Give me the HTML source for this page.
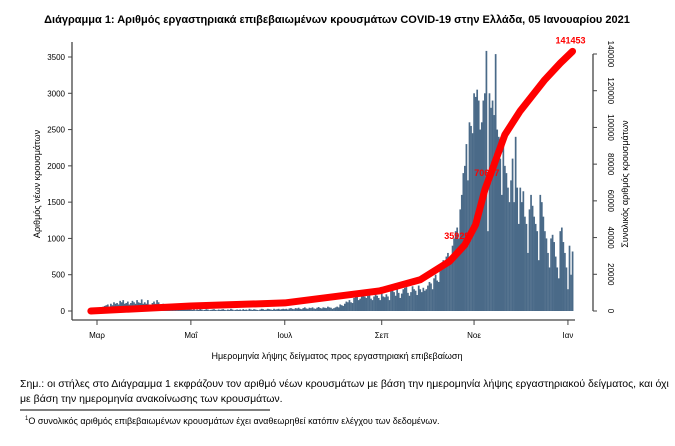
<!DOCTYPE html>
<html><head><meta charset="utf-8">
<style>
body{margin:0;background:#fff;width:675px;height:446px;overflow:hidden;font-family:"Liberation Sans Narrow","Liberation Sans",sans-serif;}
svg{position:absolute;left:0;top:0}
.note{position:absolute;left:20px;font-size:10.5px;color:#000;white-space:nowrap}
</style></head><body>
<svg id="chart" width="675" height="446" font-family="'Liberation Sans Narrow','Liberation Sans',sans-serif">
<text x="337" y="23" text-anchor="middle" font-size="11" font-weight="bold" font-family="'Liberation Sans',sans-serif">Διάγραμμα 1: Αριθμός εργαστηριακά επιβεβαιωμένων κρουσμάτων COVID-19 στην Ελλάδα, 05 Ιανουαρίου 2021</text>
<g id="bars"></g><g id="axes"></g><g id="cum"></g>
<text x="337" y="359" text-anchor="middle" font-size="9">Ημερομηνία λήψης δείγματος προς εργαστηριακή επιβεβαίωση</text>
<text transform="translate(40,184) rotate(-90)" text-anchor="middle" font-size="9">Αριθμός νέων κρουσμάτων</text>
<text transform="translate(628,184) rotate(-90)" text-anchor="middle" font-size="9">Συνολικός αριθμός κρουσμάτων</text>
<line x1="20" y1="410" x2="270" y2="410" stroke="#000" stroke-width="1"/>
</svg>
<div class="note" style="top:378px">Σημ.: οι στήλες στο Διάγραμμα 1 εκφράζουν τον αριθμό νέων κρουσμάτων με βάση την ημερομηνία λήψης εργαστηριακού δείγματος, και όχι</div>
<div class="note" style="top:393px">με βάση την ημερομηνία ανακοίνωσης των κρουσμάτων.</div>
<div class="note" style="top:416px;left:25px;font-size:9px"><sup style="font-size:6px">1</sup>Ο συνολικός αριθμός επιβεβαιωμένων κρουσμάτων έχει αναθεωρηθεί κατόπιν ελέγχου των δεδομένων.</div>
<script>
const daily = [3,5,10,20,
30,40,50,40,60,70,80,90,60,100,80,120,100,110,90,140,120,150,100,110,130,90,110,140,120,100,150,120,110,160,100,
120,100,150,90,80,110,130,100,150,120,90,80,100,70,60,50,80,60,40,70,50,60,40,30,50,40,30,20,30,40,
20,15,25,10,20,15,30,20,10,15,25,20,10,15,20,25,15,10,20,15,20,25,15,10,20,15,30,20,10,15,20,
15,20,10,25,15,20,10,30,20,15,25,20,15,10,20,30,25,15,20,30,25,20,15,30,20,25,30,20,25,30,
25,30,20,35,40,30,25,40,35,45,30,25,40,50,35,30,45,40,50,35,30,45,55,40,35,50,45,40,60,50,45,
30,40,50,60,50,90,80,70,100,130,120,150,120,110,180,230,200,150,170,230,260,200,180,210,250,170,150,200,230,210,180,
150,250,200,190,230,200,150,280,320,260,210,300,250,180,240,300,320,330,250,210,260,340,300,280,220,350,300,260,320,280,
300,350,400,380,300,450,500,420,400,550,650,700,600,750,800,700,650,900,1000,1100,1150,1000,1400,1600,1900,2000,2300,1800,2600,2550,2450,
3000,2950,3050,2900,2500,2600,2900,3000,3584,1100,3000,2800,2900,2700,3540,2500,2400,2100,1600,2300,2000,1900,1700,1500,1800,2100,1500,2400,1700,1200,
1700,1500,1650,1300,1200,800,1400,1600,1450,1300,1200,1100,700,1600,1500,1300,1100,1000,800,600,1000,1050,950,750,600,450,1100,1150,950,800,600,
300,900,500,820];
const cumDays = [0,65,126,188,214,233,243,250,256,263,269,279,295,305,313];
const cumVals = [0,2700,4400,11000,17000,27000,36000,47000,66000,82000,96000,109000,126000,135000,141453];
const leftTicks = [0,500,1000,1500,2000,2500,3000,3500];
const rightTicks = [0,20000,40000,60000,80000,100000,120000,140000];
const monthLabels = ["Μαρ","Μαΐ","Ιουλ","Σεπ","Νοε","Ιαν"];
const monthDays = [4,65,126,189,249,310];
const cumLabels = [["35929",243,-8,-6],["70687",256,2,-14],["141453",313,-2,-8]];

const NS="http://www.w3.org/2000/svg";
const x0=97,pxDay=1.539,yBase=311;
const xs=d=>x0+(d-4)*pxDay;
const yL=v=>yBase-v*(254/3500);
const yR=v=>yBase-v*(257/140000);
function mk(tag,attrs,parent){const e=document.createElementNS(NS,tag);for(const k in attrs)e.setAttribute(k,attrs[k]);parent.appendChild(e);return e;}
const bars=document.getElementById('bars'),axes=document.getElementById('axes'),cum=document.getElementById('cum');
daily.forEach((v,i)=>{
 const r=mk('rect',{x:xs(i)-0.8,y:yL(v),width:1.7,height:yBase-yL(v),fill:'#4a6a88'},bars);
 
 
});
let a=mk('line',{x1:72,y1:42,x2:72,y2:320,stroke:'#444','stroke-width':1.3},axes);

a=mk('line',{x1:72,y1:320,x2:575,y2:320,stroke:'#444','stroke-width':1.3},axes);

a=mk('line',{x1:593,y1:54,x2:593,y2:311,stroke:'#444','stroke-width':1.3},axes);

leftTicks.forEach(v=>{
 mk('line',{x1:68,y1:yL(v),x2:72,y2:yL(v),stroke:'#444'},axes);
 const t=mk('text',{x:65,y:yL(v)+3,'text-anchor':'end','font-size':8},axes);t.textContent=v;
 
 
});
rightTicks.forEach(v=>{
 mk('line',{x1:593,y1:yR(v),x2:597,y2:yR(v),stroke:'#444'},axes);
 const t=mk('text',{transform:`translate(608,${yR(v)}) rotate(90)`,'text-anchor':'middle','font-size':8},axes);t.textContent=v;
 
 
});
monthLabels.forEach((m,i)=>{
 const x=xs(monthDays[i]);
 mk('line',{x1:x,y1:320,x2:x,y2:325,stroke:'#444'},axes);
 const t=mk('text',{x:x,y:338,'text-anchor':'middle','font-size':8},axes);t.textContent=m;
 
 
});
const pts=cumDays.map((d,i)=>xs(d)+','+yR(cumVals[i])).join(' ');
const pl=mk('polyline',{points:pts,fill:'none',stroke:'#f00','stroke-width':7,'stroke-linecap':'round','stroke-linejoin':'round'},cum);


cumLabels.forEach(([s,d,dx,dy])=>{
 const i=cumDays.indexOf(d);
 const t=mk('text',{x:xs(d)+dx,y:yR(cumVals[i])+dy,'text-anchor':'middle','font-size':9,'font-weight':'bold',fill:'#f00'},cum);t.textContent=s;
 
 
});
</script>
</body></html>
